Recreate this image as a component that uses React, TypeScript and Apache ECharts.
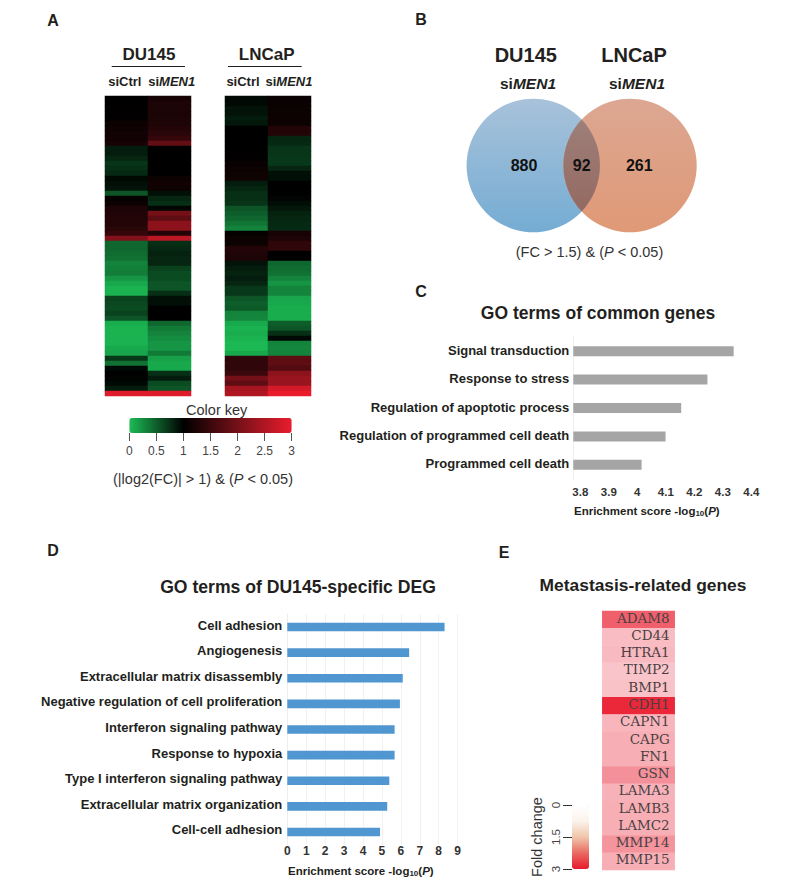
import React, { useEffect, useRef } from "react";
import * as echarts from "echarts";

const heatRows = Array.from({ length: 60 }, (_, i) => String(i));
const heatCols = ["siCtrl", "siMEN1"];
const du145Ctrl = [1.0,1.0,1.02,1.02,1.02,1.1,1.12,1.15,1.15,1.2,.85,.85,.8,.72,.75,.78,.95,.92,.9,.55,1.05,1.1,1.25,1.28,1.3,1.3,1.35,1.45,2.1,.45,.45,.42,.4,.3,.32,.34,.2,.1,.05,.05,.65,.62,.6,.65,.55,.08,.05,.05,.05,.05,.1,.12,.7,.4,.95,1.0,.98,.95,.85,2.9];
const du145Men1 = [1.2,1.25,1.25,1.22,1.25,1.25,1.3,1.35,1.45,1.85,1,1,1,1,1,1,1.1,1.15,1.12,.92,.8,.75,.97,2.0,1.8,2.2,2.2,1.3,2.6,.75,.78,.82,.8,.8,.65,.6,.6,.55,.55,.75,.92,.92,1,1,1,.45,.35,.3,.25,.2,.2,.35,.15,.1,.1,.75,.85,.6,.55,2.9];
const lncapCtrl = [.95,.95,.9,.9,.85,.88,1,1,1,1,1,1.02,1.02,1.08,1.1,1.12,1.12,.85,.8,.75,.75,.72,.55,.5,.45,.38,.3,1.05,1.1,1.1,1.3,1.28,1.25,.9,.85,.82,.85,.8,.7,.7,.55,.5,.52,.3,.28,.1,.05,.08,.05,.02,.02,.1,1.4,1.4,1.4,1.5,2.0,1.8,2.4,2.5];
const lncapMen1 = [1.08,1.08,1.1,1.1,1.1,1.1,1.3,1.3,.8,.78,.72,.72,.7,.7,.8,.92,.92,1,1,1,.98,.93,.88,.82,.8,.78,.78,1.2,1.25,1.4,1.4,1.0,1.0,.45,.42,.4,.3,.2,.3,.3,.12,.1,.08,.08,.08,.5,.55,.75,.95,.3,.28,.3,1.8,1.8,1.7,2.2,2.3,2.3,2.8,3];

const colorKeyTicks = { min: 0, max: 3, step: 0.5 };

const commonTerms = ["Signal transduction","Response to stress","Regulation of apoptotic process","Regulation of programmed cell death","Programmed cell death"];
const commonScores = [4.338,4.246,4.154,4.099,4.015];
const commonTicks = [3.8,3.9,4,4.1,4.2,4.3,4.4];

const duTerms = ["Cell adhesion","Angiogenesis","Extracellular matrix disassembly","Negative regulation of cell proliferation","Interferon signaling pathway","Response to hypoxia","Type I interferon signaling pathway","Extracellular matrix organization","Cell-cell adhesion"];
const duScores = [8.31,6.44,6.10,5.95,5.67,5.67,5.39,5.28,4.90];
const duTicks = [0,1,2,3,4,5,6,7,8,9];

const genes = ["ADAM8","CD44","HTRA1","TIMP2","BMP1","CDH1","CAPN1","CAPG","FN1","GSN","LAMA3","LAMB3","LAMC2","MMP14","MMP15"];
const geneFold = [2.09,.87,.9,.76,.8,2.8,.95,1.05,1.05,1.45,1.0,1.05,1.05,1.4,1.05];

const vennCounts = ["880","92","261"];

const INK = "#231f20";
const SANS = "'Liberation Sans', Arial, sans-serif";

function heatData(a: number[], b: number[]) {
  const out: number[][] = [];
  a.forEach((v, i) => out.push([0, i, v]));
  b.forEach((v, i) => out.push([1, i, v]));
  return out;
}

const vert = (a: string, b: string) => ({
  type: "linear", x: 0, y: 0, x2: 0, y2: 1,
  colorStops: [{ offset: 0, color: a }, { offset: 1, color: b }],
});

function txt(text: string, x: number, y: number, fontSize: number, extra: any = {}, rich?: any) {
  return {
    type: "text", x, y, silent: true, z: 20,
    style: {
      text, fontSize, fontFamily: SANS, fill: INK, align: "center", verticalAlign: "middle",
      ...extra, ...(rich ? { rich } : {}),
    },
  };
}

const siRich = (size: number) => ({
  a: { fontSize: size, fontWeight: "bold", fontFamily: SANS, color: INK },
  b: { fontSize: size, fontWeight: "bold", fontStyle: "italic", fontFamily: SANS, color: INK },
});
const capRich = (size: number) => ({
  a: { fontSize: size, fontFamily: SANS, color: "#333" },
  i: { fontSize: size, fontStyle: "italic", fontFamily: SANS, color: "#333" },
});
const enrichRich = {
  a: { fontSize: 11.5, fontWeight: "bold", fontFamily: SANS, color: INK },
  s: { fontSize: 8, fontWeight: "bold", fontFamily: SANS, color: INK, verticalAlign: "bottom", padding: [4, 0, 0, 0] },
  i: { fontSize: 11.5, fontWeight: "bold", fontStyle: "italic", fontFamily: SANS, color: INK },
};

function buildOption() {
  const hidden = { show: false };
  const heatX = (gridIndex: number, data: string[]) => ({ type: "category", gridIndex, data, show: false });
  const heatY = (gridIndex: number) => ({ type: "category", gridIndex, data: heatRows, inverse: true, show: false });

  return {
    animation: false,
    backgroundColor: "#ffffff",
    textStyle: { fontFamily: SANS },
    grid: [
      { left: 105, top: 96, width: 86, height: 300 },
      { left: 225, top: 96, width: 86, height: 300 },
      { left: 129.3, top: 418, width: 162.4, height: 15 },
      { left: 573.3, top: 337, width: 190, height: 142 },
      { left: 287.3, top: 614.2, width: 176, height: 230.6 },
      { left: 602.3, top: 611, width: 72.4, height: 259 },
      { left: 572, top: 805, width: 17, height: 64 },
    ],
    xAxis: [
      heatX(0, heatCols),
      heatX(1, heatCols),
      {
        type: "value", gridIndex: 2, min: colorKeyTicks.min, max: colorKeyTicks.max, interval: colorKeyTicks.step,
        axisLine: hidden, splitLine: hidden,
        axisTick: { show: true, length: 8, lineStyle: { color: "#555" } },
        axisLabel: { fontSize: 12, color: "#444", margin: 12, fontFamily: SANS },
      },
      {
        type: "value", gridIndex: 3, min: 3.7754, max: 4.442,
        axisLine: hidden, axisTick: hidden,
        splitLine: { show: false },
        axisLabel: { customValues: commonTicks, fontSize: 11.5, fontWeight: "bold", color: "#333", margin: 7, fontFamily: SANS },
      },
      {
        type: "value", gridIndex: 4, min: 0, max: 9.3,
        axisLine: hidden,
        axisTick: { show: false, customValues: duTicks },
        splitLine: { show: true, lineStyle: { color: "#f1f1f1", width: 1 } },
        axisLabel: { customValues: duTicks, fontSize: 12, fontWeight: "bold", color: "#333", margin: 0, fontFamily: SANS },
      },
      heatX(5, ["Fold change"]),
      { type: "category", gridIndex: 6, data: ["legend"], show: false },
    ],
    yAxis: [
      heatY(0),
      heatY(1),
      { type: "category", gridIndex: 2, data: ["key"], show: false },
      {
        type: "category", gridIndex: 3, data: commonTerms, inverse: true,
        axisLine: { show: true, lineStyle: { color: "#eeeeee" } }, axisTick: hidden,
        axisLabel: { fontSize: 13, fontWeight: "bold", color: INK, margin: 4, fontFamily: SANS, interval: 0, verticalAlign: "bottom", lineHeight: 2 },
      },
      {
        type: "category", gridIndex: 4, data: duTerms, inverse: true,
        axisLine: { show: true, lineStyle: { color: "#eeeeee" } }, axisTick: hidden,
        axisLabel: { fontSize: 13, fontWeight: "bold", color: INK, margin: 5, fontFamily: SANS, interval: 0, verticalAlign: "bottom", lineHeight: 4 },
      },
      {
        type: "category", gridIndex: 5, data: genes, inverse: true, position: "right", z: 10,
        axisLine: hidden, axisTick: hidden,
        axisLabel: { inside: true, margin: 5, fontSize: 13.5, fontFamily: "'DejaVu Serif', serif", color: "#4a3f42", interval: 0, verticalAlign: "bottom", lineHeight: 4 },
      },
      {
        type: "value", gridIndex: 6, min: 0, max: 3, interval: 1.5, inverse: true, position: "left",
        name: "Fold change", nameLocation: "middle", nameRotate: 90, nameGap: 28,
        nameTextStyle: { fontSize: 14.5, color: "#333", fontFamily: SANS },
        axisLine: hidden, splitLine: hidden,
        axisTick: { show: true, length: 9, lineStyle: { color: "#333" } },
        axisLabel: { rotate: 90, fontSize: 11.5, color: "#444", margin: 10, fontFamily: SANS },
      },
    ],
    visualMap: [
      {
        type: "continuous", seriesIndex: [0, 1], min: 0, max: 3, orient: "horizontal",
        left: 129.3, top: 418, itemWidth: 15, itemHeight: 162.4, padding: 0,
        calculable: false, hoverLink: false, realtime: false, text: ["", ""], showLabel: false,
        inRange: { color: ["#1cbc55", "#000000", "#751018", "#ea1c2c"] },
      },
      {
        type: "continuous", seriesIndex: [2], min: 0, max: 3, show: false,
        inRange: { color: ["#ffffff", "#e8192c"] },
      },
      {
        type: "continuous", seriesIndex: [], min: 0, max: 3, orient: "vertical", inverse: true,
        left: 572, top: 805, itemWidth: 17, itemHeight: 64, padding: 0,
        calculable: false, hoverLink: false, text: ["", ""],
        inRange: { color: ["#ffffff", "#fbf3ec", "#f0c6aa", "#e96a62", "#e8192c"] },
      },
    ],
    series: [
      { type: "heatmap", xAxisIndex: 0, yAxisIndex: 0, data: heatData(du145Ctrl, du145Men1), progressive: 0 },
      { type: "heatmap", xAxisIndex: 1, yAxisIndex: 1, data: heatData(lncapCtrl, lncapMen1), progressive: 0 },
      { type: "heatmap", xAxisIndex: 5, yAxisIndex: 5, data: geneFold.map((v, i) => [0, i, v]) },
      {
        type: "bar", xAxisIndex: 3, yAxisIndex: 3, data: commonScores, barWidth: 10,
        itemStyle: { color: "#a5a5a5" },
      },
      {
        type: "bar", xAxisIndex: 4, yAxisIndex: 4, data: duScores, barWidth: 8.6,
        itemStyle: { color: "#5096d0" },
      },
    ],
    graphic: [
      txt("A", 53, 20, 16, { fontWeight: "bold" }),
      txt("B", 421, 19, 16, { fontWeight: "bold" }),
      txt("C", 421, 291, 16, { fontWeight: "bold" }),
      txt("D", 53, 550, 16, { fontWeight: "bold" }),
      txt("E", 504, 552, 16, { fontWeight: "bold" }),

      txt("DU145", 149, 54, 17, { fontWeight: "bold" }),
      txt("LNCaP", 266.7, 54, 17, { fontWeight: "bold" }),
      { type: "line", silent: true, shape: { x1: 111.7, y1: 66.5, x2: 185, y2: 66.5 }, style: { stroke: INK, lineWidth: 1 } },
      { type: "line", silent: true, shape: { x1: 228, y1: 66.5, x2: 301.7, y2: 66.5 }, style: { stroke: INK, lineWidth: 1 } },
      txt("siCtrl", 124.8, 81.7, 13, { fontWeight: "bold" }),
      txt("{a|si}{b|MEN1}", 171.7, 81.7, 13, {}, siRich(13)),
      txt("siCtrl", 243, 81.7, 13, { fontWeight: "bold" }),
      txt("{a|si}{b|MEN1}", 289, 81.7, 13, {}, siRich(13)),
      txt("Color key", 216.7, 410, 14.5, { fill: "#333" }),
      txt("(|log2(FC)| > 1) & ({i|P} < 0.05)", 203, 479, 14.5, { fill: "#333" }, capRich(14.5)),

      txt("DU145", 525.8, 55, 20, { fontWeight: "bold" }),
      txt("LNCaP", 634, 55, 20, { fontWeight: "bold" }),
      txt("{a|si}{b|MEN1}", 528, 83, 15.5, {}, siRich(15.5)),
      txt("{a|si}{b|MEN1}", 637, 83, 15.5, {}, siRich(15.5)),
      { type: "circle", silent: true, shape: { cx: 533.3, cy: 165.5, r: 66.7 }, style: { fill: vert("#a8c2da", "#75acd3") } },
      { type: "circle", silent: true, shape: { cx: 630, cy: 165.5, r: 66.7 }, style: { fill: vert("#dca792", "#df9976") } },
      { type: "vennLens", silent: true, x: 0, y: 0, style: { fill: vert("#9d7f79", "#946a62") } },
      txt(vennCounts[0], 524, 165.7, 16, { fontWeight: "bold", fill: "#111" }),
      txt(vennCounts[1], 581.7, 165.7, 16, { fontWeight: "bold", fill: "#111" }),
      txt(vennCounts[2], 639.3, 165.7, 16, { fontWeight: "bold", fill: "#111" }),
      txt("(FC > 1.5) & ({i|P} < 0.05)", 589.5, 252, 14.5, { fill: "#333" }, capRich(14.5)),

      txt("GO terms of common genes", 598, 313, 17.5, { fontWeight: "bold" }),
      txt("{a|Enrichment score -log}{s|10}{a|(}{i|P}{a|)}", 574, 511, 11.5, { align: "left" }, enrichRich),

      txt("GO terms of DU145-specific DEG", 298, 587, 17.6, { fontWeight: "bold" }),
      txt("{a|Enrichment score -log}{s|10}{a|(}{i|P}{a|)}", 288, 871, 11.5, { align: "left" }, enrichRich),

      txt("{m|M}{r|etastasis-related genes}", 643, 585, 17.4, {}, {
        m: { fontSize: 17.4, fontWeight: "bold", fontFamily: SANS, color: INK },
        r: { fontSize: 17.4, fontWeight: "bold", fontFamily: SANS, color: "#4a4a4a" },
      }),
    ],
  };
}

export default function App() {
  const ref = useRef<HTMLDivElement>(null);
  useEffect(() => {
    const lens = echarts.graphic.extendPath(
      "M581.65 119.6 A66.7 66.7 0 0 1 581.65 211.4 A66.7 66.7 0 0 1 581.65 119.6 Z",
      {}
    );
    echarts.graphic.registerShape("vennLens", lens);
    const chart = echarts.init(ref.current!, undefined, { renderer: "svg" });
    chart.setOption(buildOption() as any);
    return () => chart.dispose();
  }, []);
  return <div ref={ref} style={{ position: "absolute", left: 0, top: 0, width: 789, height: 883 }} />;
}
